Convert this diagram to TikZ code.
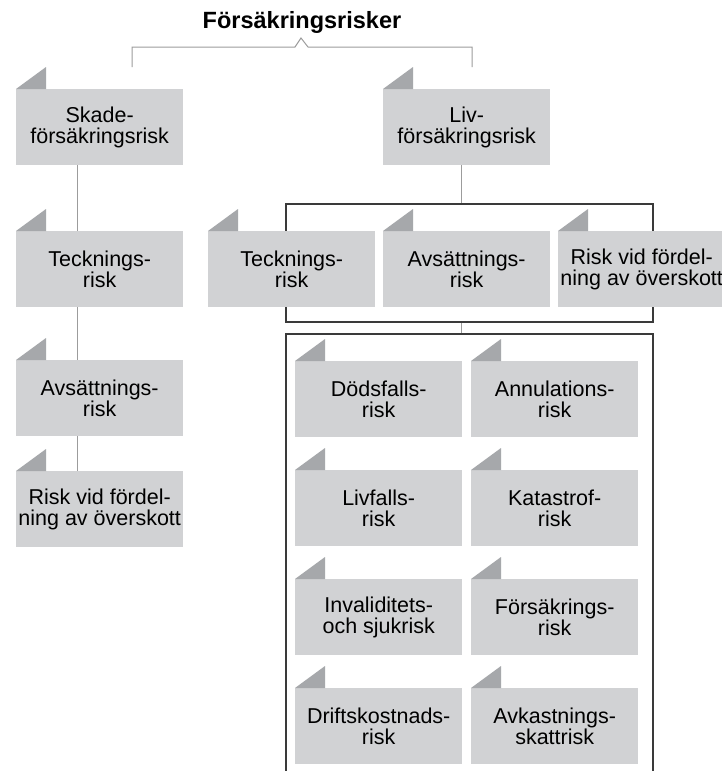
\documentclass[tikz,border=0pt]{standalone}
\usepackage{fontspec}
\setmainfont{Liberation Sans}
\usetikzlibrary{backgrounds}
\definecolor{boxfill}{HTML}{D1D2D4}
\definecolor{trifill}{HTML}{A6A8AB}
\definecolor{lightline}{HTML}{9C9C9C}
\definecolor{darkline}{HTML}{3A3A3A}
\tikzset{
  riskbox/.style={fill=boxfill, minimum width=167pt, minimum height=76pt, inner sep=0pt,
    align=center, anchor=north west, font=\fontsize{21.5}{21.5}\selectfont},
  flagtri/.style={fill=trifill},
  lite/.style={draw=lightline, line width=1pt},
  darkframe/.style={draw=darkline, line width=1.1pt},
}
\newcommand{\riskflag}[1]{\fill[flagtri] (#1.north west) -- ++(30pt,22pt) -- ++(0pt,-22pt) -- cycle;}
\begin{document}
\begin{tikzpicture}[x=1pt,y=-1pt]
\useasboundingbox (0,0) rectangle (722,771);
\node[anchor=base, font=\fontsize{23.5}{23.5}\bfseries\selectfont] (title) at (302,28) {Försäkringsrisker};
% left column
\node[riskbox] (skade) at (16,89) {Skade-\\försäkringsrisk};
\node[riskbox] (lteck) at (16,231) {Tecknings-\\risk};
\node[riskbox] (lavs) at (16,360) {Avsättnings-\\risk};
\node[riskbox] (lrisk) at (16,471) {Risk vid fördel-\\ning av överskott};
% right tree
\node[riskbox] (liv) at (383,89) {Liv-\\försäkringsrisk};
\node[riskbox] (rteck) at (208,231) {Tecknings-\\risk};
\node[riskbox] (ravs) at (383,231) {Avsättnings-\\risk};
\node[riskbox] (rrisk) at (558,231) {Risk vid fördel-\\ning av överskott};
\node[riskbox] (dods) at (295,361) {Dödsfalls-\\risk};
\node[riskbox] (annul) at (471,361) {Annulations-\\risk};
\node[riskbox] (livf) at (295,470) {Livfalls-\\risk};
\node[riskbox] (kat) at (471,470) {Katastrof-\\risk};
\node[riskbox] (inv) at (295,579) {Invaliditets-\\och sjukrisk};
\node[riskbox] (fors) at (471,579) {Försäkrings-\\risk};
\node[riskbox] (drift) at (295,688) {Driftskostnads-\\risk};
\node[riskbox] (avk) at (471,688) {Avkastnings-\\skattrisk};
\foreach \n in {skade,lteck,lavs,lrisk,liv,rteck,ravs,rrisk,dods,annul,livf,kat,inv,fors,drift,avk}{\riskflag{\n}}
% coordinates
\coordinate (bl) at (132,67);
\coordinate (br) at (472,67);
\coordinate (ftop) at (461,204);
\coordinate (fbot) at (461,322);
\coordinate (f2top) at (461,334);
\begin{scope}[on background layer]
  \fill[white] (0,0) rectangle (722,771);
  \draw[lite] (bl) -- (132,47) -- (295,47) -- (301,38) -- (308,47) -- (472,47) -- (br);
  \draw[lite] ([xshift=61pt]skade.south west) -- ([xshift=61pt]lrisk.north west);
  \draw[lite] ([xshift=78pt]liv.south west) -- (ftop);
  \draw[lite] (fbot) -- (f2top);
  \draw[darkframe] (286,204) rectangle (653,322);
  \draw[darkframe] (286,780) -- (286,334) -- (653,334) -- (653,780);
\end{scope}
\end{tikzpicture}
\end{document}
